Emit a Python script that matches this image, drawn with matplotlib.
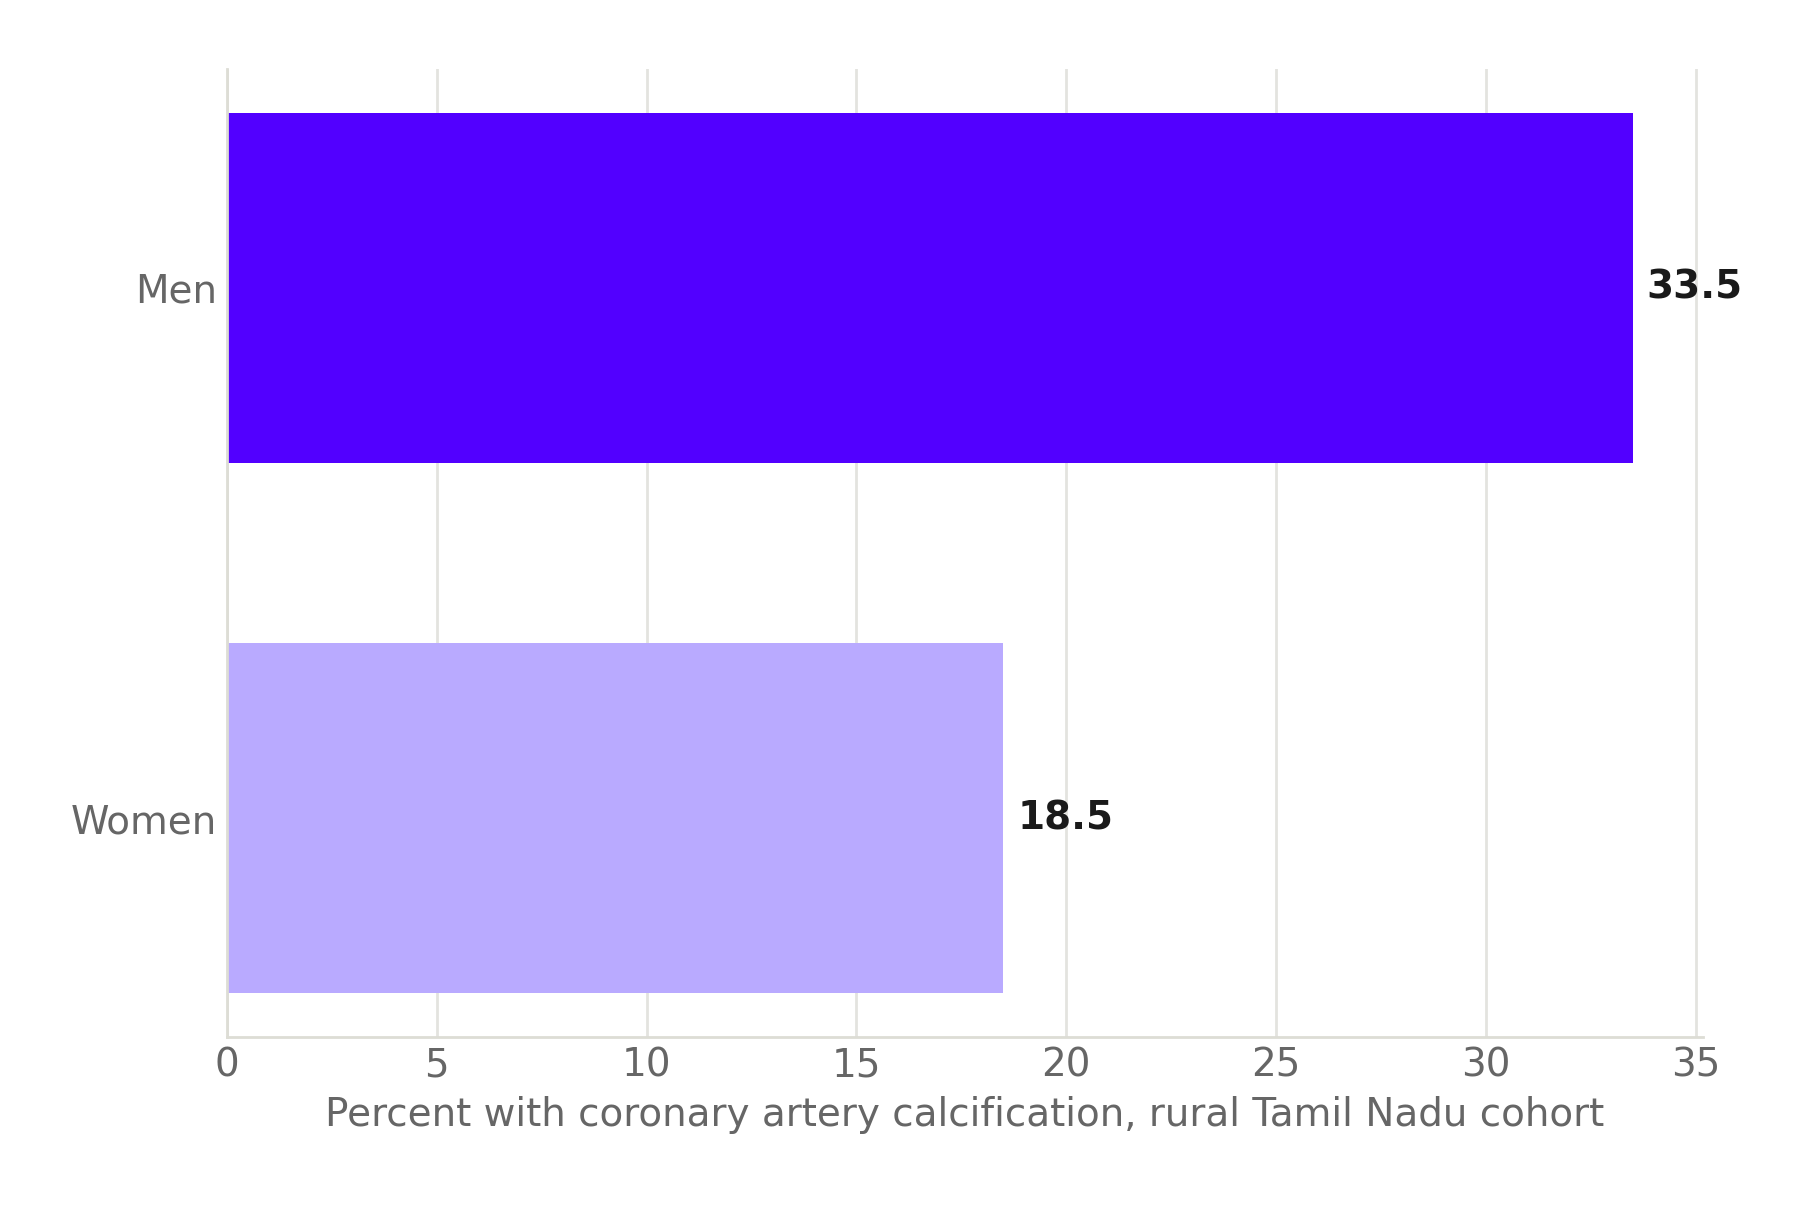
import matplotlib
matplotlib.use("Agg")
import matplotlib.pyplot as plt

groups = ["Women", "Men"]
cac_percent = [18.5, 33.5]
bar_colors = ["#B9AAFF", "#5200FF"]
x_label = "Percent with coronary artery calcification, rural Tamil Nadu cohort"

plt.rcParams["font.family"] = ["DejaVu Sans"]

fig = plt.figure(figsize=(9.065, 6.03), dpi=200)
ax = fig.add_axes([0.1252, 0.140, 0.8141, 0.8028])

bars = ax.barh(groups, cac_percent, height=0.66, color=bar_colors, zorder=2)

ax.set_xlim(0, max(cac_percent) * 1.05)
ax.set_xticks(range(0, 36, 5))

ax.grid(axis="x", color="#E3E3DF", linewidth=1.0, zorder=0)
ax.grid(axis="y", visible=False)
ax.set_axisbelow(True)

for side in ["top", "right"]:
    ax.spines[side].set_visible(False)
for side in ["left", "bottom"]:
    ax.spines[side].set_color("#DDDDD5")
    ax.spines[side].set_linewidth(1.0)

ax.tick_params(axis="both", length=0, labelsize=14, colors="#666666")
ax.tick_params(axis="x", pad=3.5)
ax.tick_params(axis="y", pad=3.5)
ax.set_xlabel(x_label, fontsize=14, color="#666666", labelpad=4)

for bar, value in zip(bars, cac_percent):
    ax.annotate(
        f"{value:.1f}",
        xy=(bar.get_width(), bar.get_y() + bar.get_height() / 2),
        xytext=(5, 0),
        textcoords="offset points",
        ha="left",
        va="center",
        fontsize=14,
        fontweight="bold",
        color="#1A1A1A",
    )

fig.savefig("out.png", dpi=200, facecolor="white")
